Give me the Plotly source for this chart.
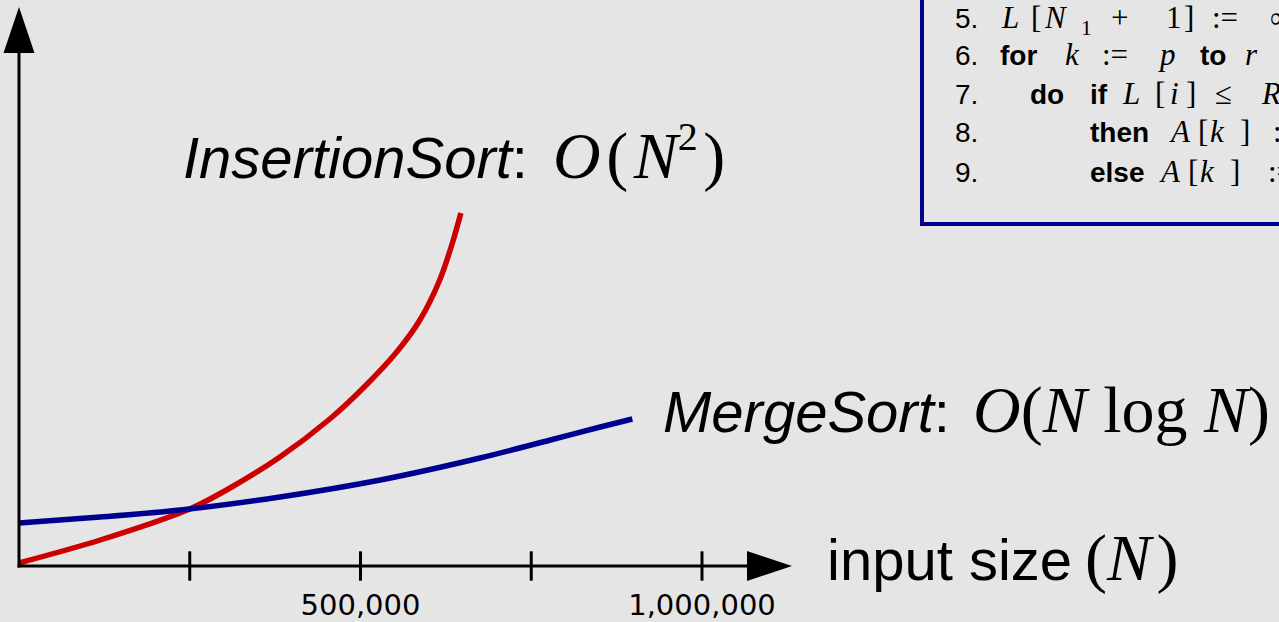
import plotly.graph_objects as go

# ---------------- data ----------------
# input size N and (arbitrary-unit) running time for each algorithm
insertion_n = [0, 119_000, 250_000, 309_000, 382_000, 455_000, 504_000,
               553_000, 587_000, 616_000, 635_000, 647_000]
insertion_t = [3, 26, 57, 78, 109, 147, 178, 214, 246, 286, 324, 353]

merge_n = [0, 119_000, 236_000, 382_000, 529_000, 675_000, 778_000, 851_000, 898_000]
merge_t = [43, 49, 56, 69, 86, 108, 126, 139, 147]

tick_values = [250_000, 500_000, 750_000, 1_000_000]
tick_labels = ["", "500,000", "", "1,000,000"]

insertion_label = "<i>InsertionSort</i>:"
insertion_math = "<i>O</i>\u200a(\u200a<i>N</i><sup><span style=\"font-size:40px\">2</span></sup>\u200a)"
merge_label = "<i>MergeSort</i>:"
merge_math = "<i>O</i>(<i>N</i> log <i>N</i>)"
x_title = "input size"
x_title_math = "(<i>N</i>\u200a)"

# ---------------- layout helpers ----------------
W, H = 1279, 622
ORIGIN_PX, ORIGIN_PY = 19, 566
PX_PER_N = 683 / 1_000_000  # pixels per unit of N


def X(px):
    return (px - ORIGIN_PX) / PX_PER_N


def Y(py):
    return ORIGIN_PY - py


BG = "#e5e5e5"
RED = "#cc0000"
BLUE = "#000090"
BOX = "#00008f"
SANS = "Liberation Sans"
SERIF = "Liberation Serif"


def M(s, size=None):
    st = f"font-family:'{SERIF}'"
    if size:
        st += f";font-size:{size}px"
    return f"<span style=\"{st}\">{s}</span>"


fig = go.Figure()

# curves
fig.add_trace(go.Scatter(x=insertion_n, y=insertion_t, mode="lines",
                         line=dict(color=RED, width=5.5, shape="spline", smoothing=0.8),
                         hoverinfo="skip", showlegend=False))
fig.add_trace(go.Scatter(x=merge_n, y=merge_t, mode="lines",
                         line=dict(color=BLUE, width=5.5, shape="spline", smoothing=0.8),
                         hoverinfo="skip", showlegend=False))

# x ticks (crossing marks)
fig.add_trace(go.Scatter(x=tick_values, y=[0] * len(tick_values), mode="markers",
                         marker=dict(symbol="line-ns", size=21,
                                     line=dict(color="black", width=3)),
                         hoverinfo="skip", showlegend=False))

# tick labels (baseline at y=615 px); only the labelled ticks get text
TICK_FS = 29
lab_x = [v for v, t in zip(tick_values, tick_labels) if t]
lab_t = [t for t in tick_labels if t]
fig.add_trace(go.Scatter(x=lab_x, y=[Y(615 - 0.25 * TICK_FS)] * len(lab_x),
                         mode="text", text=lab_t, textposition="middle center",
                         textfont=dict(family="DejaVu Sans", size=TICK_FS, color="black"),
                         hoverinfo="skip", showlegend=False, cliponaxis=False))


def text_at(px, baseline, txt, size, family=SANS, color="black"):
    fig.add_trace(go.Scatter(x=[X(px)], y=[Y(baseline - 0.25 * size)], mode="text",
                             text=[txt], textposition="middle right",
                             textfont=dict(family=family, size=size, color=color),
                             hoverinfo="skip", showlegend=False, cliponaxis=False))


BIG = 58
MATH = 66
text_at(183, 178, insertion_label, BIG)
text_at(553, 178, M(insertion_math, MATH), BIG)
text_at(663, 432, merge_label, BIG)
text_at(973, 432, M(merge_math, MATH), BIG)
text_at(827, 580, x_title, BIG)
text_at(1085, 580, M(x_title_math, MATH), BIG)

# pseudocode box (partially visible)
CODE = 28
CM = 31
code_lines = [
    (28, [(955, "5."), (1002, M("<i>L</i>", CM)), (1031, M("[", CM)), (1045, M("<i>N</i>", CM)),
          (1081, M("<sub>1</sub>", CM)), (1111, M("+", CM)), (1166, M("1", CM)),
          (1184, M("]", CM)), (1212, M(":=", CM)), (1270, M("∞", CM))]),
    (65, [(955, "6."), (1000, "<b>for</b>"), (1065, M("<i>k</i>", CM)), (1102, M(":=", CM)),
          (1160, M("<i>p</i>", CM)), (1200, "<b>to</b>"), (1245, M("<i>r</i>", CM))]),
    (104, [(955, "7."), (1030, "<b>do</b>"), (1090, "<b>if</b>"), (1123, M("<i>L</i>", CM)),
           (1155, M("[", CM)), (1170, M("<i>i</i>", CM)), (1186, M("]", CM)),
           (1215, M("≤", CM)), (1262, M("<i>R</i>", CM))]),
    (142, [(955, "8."), (1090, "<b>then</b>"), (1171, M("<i>A</i>", CM)), (1198, M("[", CM)),
           (1210, M("<i>k</i>", CM)), (1240, M("]", CM)), (1273, M(":", CM))]),
    (182, [(955, "9."), (1090, "<b>else</b>"), (1161, M("<i>A</i>", CM)), (1188, M("[", CM)),
           (1200, M("<i>k</i>", CM)), (1230, M("]", CM)), (1268, M(":=", CM))]),
]
for base, toks in code_lines:
    for px, t in toks:
        text_at(px, base, t, CODE)

shapes = [
    # x axis
    dict(type="line", xref="x", yref="y", x0=X(ORIGIN_PX - 1.5), y0=0, x1=X(752), y1=0,
         line=dict(color="black", width=3)),
    dict(type="path", xref="x", yref="y",
         path=f"M {X(747)},{15} L {X(792)},0 L {X(747)},{-15} Z",
         fillcolor="black", line=dict(width=0)),
    # y axis
    dict(type="line", xref="x", yref="y", x0=0, y0=-1.5, x1=0, y1=Y(48),
         line=dict(color="black", width=3)),
    dict(type="path", xref="x", yref="y",
         path=f"M {X(3.5)},{Y(53)} L {X(19)},{Y(7)} L {X(34.5)},{Y(53)} Z",
         fillcolor="black", line=dict(width=0)),
    # pseudocode frame
    dict(type="rect", xref="paper", yref="paper", x0=922 / W, y0=1 - 224 / H, x1=1.1, y1=1.1,
         line=dict(color=BOX, width=4), fillcolor="rgba(0,0,0,0)", layer="below"),
]

fig.update_layout(
    width=W, height=H, autosize=False,
    margin=dict(l=0, r=0, t=0, b=0, pad=0),
    paper_bgcolor=BG, plot_bgcolor=BG,
    xaxis=dict(range=[X(0), X(W)], visible=False, fixedrange=True),
    yaxis=dict(range=[Y(H), Y(0)], visible=False, fixedrange=True),
    shapes=shapes,
    showlegend=False,
    hovermode=False,
)

fig.write_html("out.html", config={"displayModeBar": False, "staticPlot": True},
               post_script="document.body.style.margin='0';document.body.style.overflow='hidden';")
